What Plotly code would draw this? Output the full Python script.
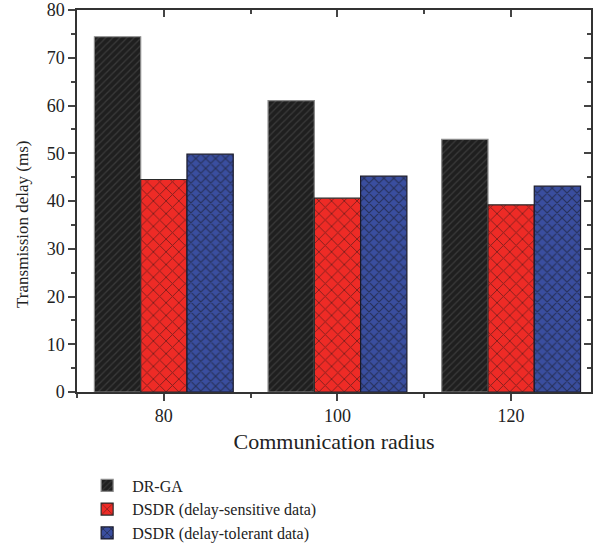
import plotly.graph_objects as go

radius = [80, 100, 120]
dr_ga = [74.4, 61.0, 52.9]
dsdr_sensitive = [44.5, 40.6, 39.2]
dsdr_tolerant = [49.8, 45.2, 43.1]
names = ["DR-GA", "DSDR (delay-sensitive data)", "DSDR (delay-tolerant data)"]
y_ticks = [0, 10, 20, 30, 40, 50, 60, 70, 80]

FONT = "Liberation Serif"
W = 5.33

fig = go.Figure()
fig.add_trace(go.Bar(
    x=radius, y=dr_ga, name=names[0], width=W, offset=-1.5 * W,
    marker=dict(color="#1f1f1f", line=dict(color="#8a8a8a", width=1.2),
                pattern=dict(shape="/", fgcolor="#555555", bgcolor="#1f1f1f", size=5, solidity=0.25)),
))
fig.add_trace(go.Bar(
    x=radius, y=dsdr_sensitive, name=names[1], width=W, offset=-0.5 * W,
    marker=dict(color="#ee2b26", line=dict(color="#2a2a2a", width=1.2),
                pattern=dict(shape="x", fgcolor="#151515", bgcolor="#ee2b26", size=9, solidity=0.2)),
))
fig.add_trace(go.Bar(
    x=radius, y=dsdr_tolerant, name=names[2], width=W, offset=0.5 * W,
    marker=dict(color="#3a4e9f", line=dict(color="#1a1a2a", width=1.2),
                pattern=dict(shape="x", fgcolor="#111111", bgcolor="#3a4e9f", size=7, solidity=0.3)),
))

axis_common = dict(showline=True, linecolor="#333", linewidth=1.5, showgrid=False,
                   zeroline=False, automargin=False)

fig.update_layout(
    width=597, height=559,
    margin=dict(l=77, r=6, t=10, b=167, autoexpand=False),
    paper_bgcolor="white", plot_bgcolor="white",
    font=dict(family=FONT, size=16, color="#222"),
    barmode="overlay",
    showlegend=True,
    legend=dict(x=0.01, y=-0.2, xanchor="left", yanchor="top",
                font=dict(family=FONT, size=16, color="#222"),
                tracegroupgap=0, itemwidth=40, bgcolor="rgba(0,0,0,0)"),
    xaxis=dict(**axis_common, range=[70, 129.2], tickvals=radius, ticks="outside",
               ticklen=7, tickwidth=1.5, tickcolor="#444",
               minor=dict(ticks="outside", tickvals=[70, 90, 110], ticklen=4, tickwidth=1.5, tickcolor="#444"),
               title=dict(text="Communication radius", font=dict(size=22), standoff=8),
               tickfont=dict(size=18)),
    yaxis=dict(**axis_common, range=[0, 80], tickvals=y_ticks, ticks="outside",
               ticklen=7, tickwidth=1.5, tickcolor="#444", ticklabeloverflow="allow",
               minor=dict(ticks="outside", dtick=5, ticklen=4, tickwidth=1.5, tickcolor="#444"),
               tickfont=dict(size=18)),
    xaxis2=dict(**axis_common, overlaying="x", side="top", matches="x", tickvals=radius,
                ticks="inside", ticklen=7, tickwidth=1.5, tickcolor="#444", showticklabels=False,
                minor=dict(ticks="inside", tickvals=[70, 90, 110], ticklen=4, tickwidth=1.5, tickcolor="#444")),
    yaxis2=dict(**axis_common, overlaying="y", side="right", matches="y", tickvals=y_ticks,
                ticks="inside", ticklen=7, tickwidth=1.5, tickcolor="#444", showticklabels=False,
                minor=dict(ticks="inside", dtick=5, ticklen=4, tickwidth=1.5, tickcolor="#444")),
    annotations=[dict(text="Transmission delay (ms)", textangle=-90, xref="paper", yref="paper",
                      x=-0.105, y=0.44, xanchor="center", yanchor="middle", showarrow=False,
                      font=dict(family=FONT, size=17, color="#222"))],
)
fig.add_trace(go.Scatter(x=[radius[0]], y=[0], xaxis="x2", yaxis="y2", mode="markers",
                         marker=dict(opacity=0), showlegend=False, hoverinfo="skip"))

fig.write_html("out.html")
